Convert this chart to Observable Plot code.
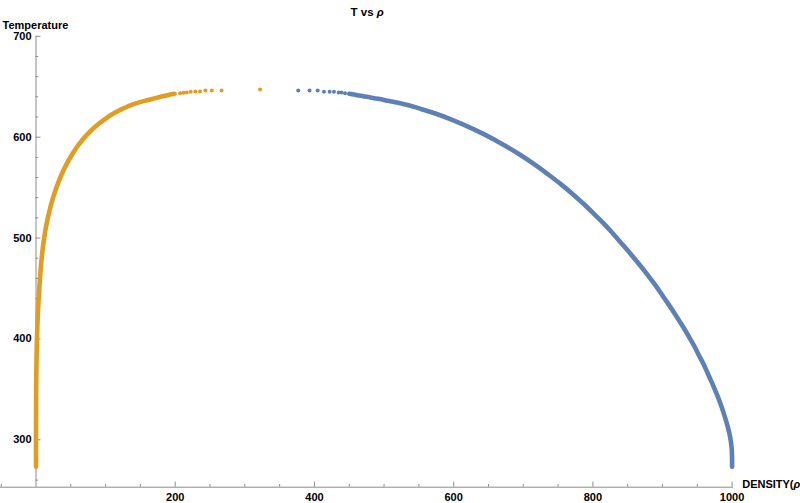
<!DOCTYPE html>
<html><head><meta charset="utf-8">
<script src="https://cdn.jsdelivr.net/npm/d3@7"></script>
<script src="https://cdn.jsdelivr.net/npm/@observablehq/plot@0.6"></script>
<style>html,body{margin:0;padding:0;background:#fff;}</style>
</head><body><div id="chart"></div>
<script>
// Saturation curve of water: temperature (K) vs density (kg/m^3)
const tempK = [273.2, 283, 293, 303, 313, 323, 333, 343, 353, 363, 373, 383, 393, 403, 413, 423, 433, 443, 453, 463, 473, 483, 493, 503, 513, 523, 533, 543, 553, 563, 573, 583, 593, 603, 613, 618, 623, 628, 633, 636, 638, 640, 641, 642, 643];
const rhoVapor = [0.005, 0.009, 0.017, 0.03, 0.05, 0.083, 0.13, 0.2, 0.29, 0.42, 0.6, 0.83, 1.12, 1.5, 1.97, 2.55, 3.26, 4.1, 5.0, 6.0, 7.2, 8.6, 10.3, 12.4, 14.9, 18.0, 21.6, 25.9, 30.9, 36.7, 43.7, 52, 61.8, 74, 89.6, 99, 110, 124, 141, 156, 168, 179, 185, 191.5, 199];
const rhoLiquid = [1000, 999.9, 999.2, 997.1, 993.7, 989.5, 984.7, 979.3, 973.3, 966.8, 960.4, 952.9, 945.6, 937.3, 928.6, 919.5, 909.9, 900, 890, 879.1, 867.7, 855.7, 843.2, 830.6, 817.4, 802.9, 788.1, 772, 754.8, 735.9, 716.1, 694.2, 670.1, 643.3, 612.5, 595.1, 575.7, 553, 527.6, 506, 491.5, 475, 467, 458.5, 450];
// sparse points close to the critical point
const vaporTopT = [643.6, 644.0, 644.3, 645.0, 645.3, 645.3, 646.2, 646.2, 646.2, 647.2];
const vaporTopRho = [207, 211.8, 216.5, 222.3, 229, 235.7, 243.4, 252.5, 266.5, 322];
const liquidTopT = [643.6, 644.3, 644.3, 645.0, 645.0, 645.0, 646.2, 646.2, 646.2];
const liquidTopRho = [444, 439, 434.8, 428, 421.8, 413.7, 404.6, 393, 376.7];

const xMajor = [200, 400, 600, 800, 1000];
const xMinor = [-50, 50, 100, 150, 250, 300, 350, 450, 500, 550, 650, 700, 750, 850, 900, 950];
const yMajor = [300, 400, 500, 600, 700];
const yMinor = [260, 280, 320, 340, 360, 380, 420, 440, 460, 480, 520, 540, 560, 580, 620, 640, 660, 680];
const xDomain = [-51, 1002];
const yDomain = [253, 700];

const title = "T vs ρ";
const xLabel = "DENSITY(ρ)";
const yLabel = "Temperature";

const ORANGE = "#E19C24", BLUE = "#5E81B5", AXIS = "#8c8c8c";

const vapor = tempK.map((t, i) => ({t, rho: rhoVapor[i]}));
const liquid = tempK.map((t, i) => ({t, rho: rhoLiquid[i]}));
const vaporTop = vaporTopT.map((t, i) => ({t, rho: vaporTopRho[i]}));
const liquidTop = liquidTopT.map((t, i) => ({t, rho: liquidTopRho[i]}));

const chart = Plot.plot({
  width: 800, height: 503,
  marginLeft: 0, marginRight: 67, marginTop: 35.8, marginBottom: 16.3,
  x: {domain: xDomain, axis: null},
  y: {domain: yDomain, axis: null},
  style: {fontFamily: "'Liberation Sans', Arial, sans-serif", fontSize: "11px", fontWeight: "bold", background: "#fff", color: "#000"},
  marks: [
    Plot.ruleY([yDomain[0]], {x1: xDomain[0], x2: xDomain[1], stroke: AXIS}),
    Plot.ruleX([0], {stroke: AXIS}),
    Plot.ruleX(xMinor, {x: d => d, insetTop: 448.2, stroke: AXIS}),
    Plot.ruleX(xMajor, {x: d => d, insetTop: 445.9, stroke: AXIS}),
    Plot.ruleY(yMinor, {y: d => d, x1: 0, x2: 3.9, stroke: AXIS}),
    Plot.ruleY(yMajor, {y: d => d, x1: 0, x2: 7.2, stroke: AXIS}),
    Plot.text(yMajor, {x: 0, y: d => d, text: d => String(d), textAnchor: "end", dx: -4.5, fontWeight: "bold"}),
    Plot.text(xMajor, {x: d => d, text: d => String(d), frameAnchor: "bottom", lineAnchor: "top", dy: 6, fontWeight: "bold"}),
    Plot.line(vapor, {x: "rho", y: "t", stroke: ORANGE, strokeWidth: 4.6, curve: "monotone-y", strokeLinecap: "round"}),
    Plot.line(liquid, {x: "rho", y: "t", stroke: BLUE, strokeWidth: 4.6, curve: "monotone-y", strokeLinecap: "round"}),
    Plot.dot(vaporTop, {x: "rho", y: "t", r: 2, fill: ORANGE}),
    Plot.dot(liquidTop, {x: "rho", y: "t", r: 2, fill: BLUE}),
    Plot.text([yLabel], {frameAnchor: "top-left", dx: 2, dy: -15.3, textAnchor: "start", fontWeight: "bold"}),
    Plot.text([title], {frameAnchor: "top-left", dx: 366.7, dy: -28.3, textAnchor: "middle", fontWeight: "bold", fontSize: 11.5}),
    Plot.text([xLabel], {frameAnchor: "bottom-right", dx: 8.7, dy: 0.8, textAnchor: "start", fontWeight: "bold"})
  ]
});

// italic rho
d3.select(chart).selectAll("text").each(function() {
  const el = d3.select(this);
  const s = el.text();
  if (s.includes("ρ")) {
    const parts = s.split("ρ");
    el.text("");
    el.append("tspan").text(parts[0]);
    el.append("tspan").attr("font-style", "italic").text("ρ");
    if (parts[1]) el.append("tspan").text(parts[1]);
  }
});

document.getElementById("chart").appendChild(chart);
</script>
</body></html>
